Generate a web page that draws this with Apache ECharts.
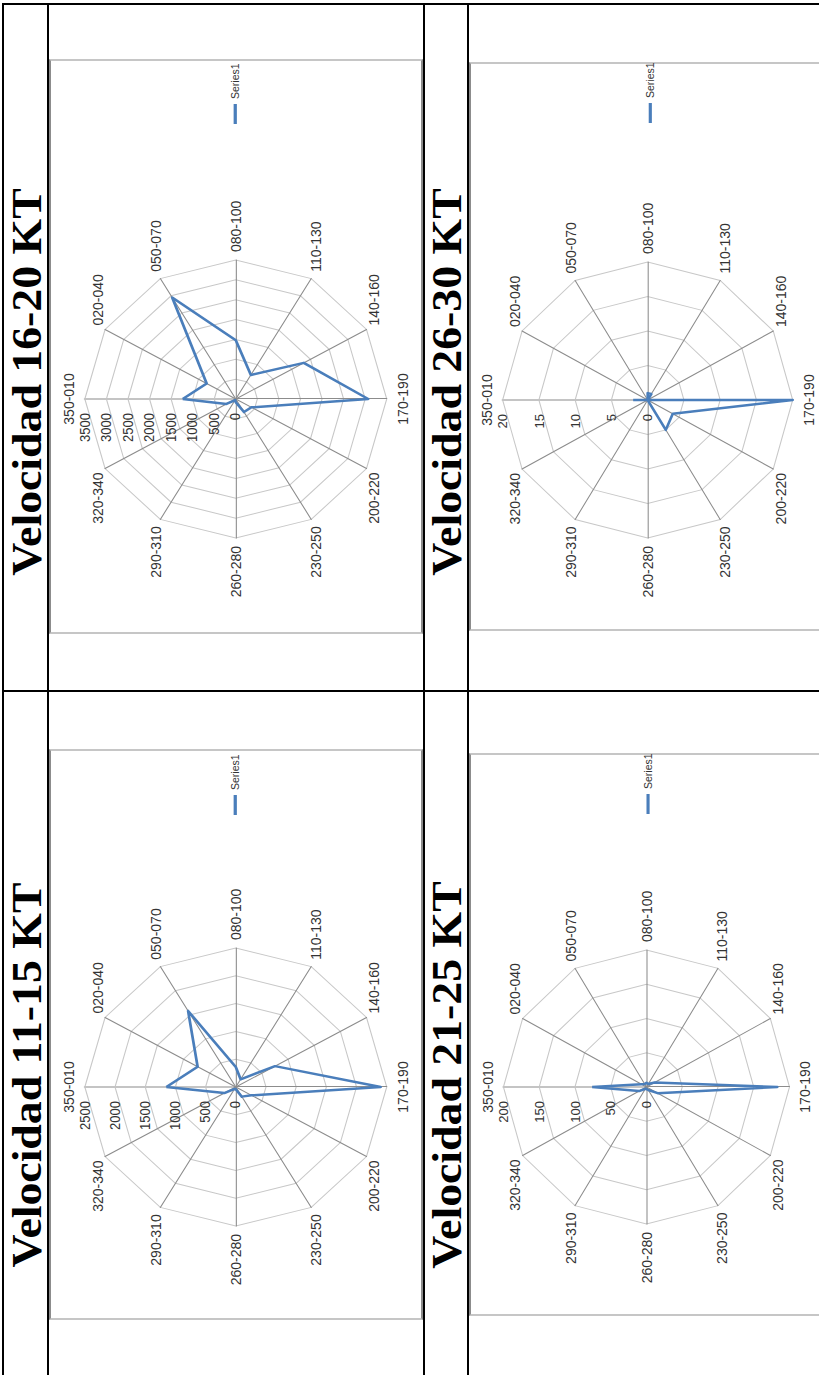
<!DOCTYPE html>
<html lang="es">
<head>
<meta charset="UTF-8">
<title>Velocidad del viento por dirección</title>
<script src="https://cdn.jsdelivr.net/npm/echarts@6/dist/echarts.min.js"></script>
<style>
  html, body { margin: 0; padding: 0; background: #fff; }
  body { width: 819px; height: 1375px; position: relative; overflow: hidden; }
  .rule { position: absolute; background: #000; }
  .box { position: absolute; box-sizing: border-box; border: 2px solid #c6c6c6;
         border-left-color: #8c8c8c; border-right-color: #8c8c8c; }
  .title { position: absolute; font: bold 42px 'Liberation Serif', 'Times New Roman', serif;
           line-height: 1; white-space: nowrap; color: #000;
           transform: translate(-50%, -50%) rotate(-90deg) scale(1.09, 1); }
  .chart { position: absolute; left: 0; top: 0; transform-origin: 0 0; }
</style>
</head>
<body>
<!-- table rules -->
<div class="rule" style="left:2px;top:3px;width:817px;height:2px"></div>
<div class="rule" style="left:2px;top:690px;width:817px;height:2px"></div>
<div class="rule" style="left:2px;top:3px;width:2px;height:1372px"></div>
<div class="rule" style="left:47px;top:3px;width:2px;height:1372px"></div>
<div class="rule" style="left:423px;top:3px;width:2px;height:1372px"></div>
<div class="rule" style="left:467px;top:3px;width:2px;height:1372px"></div>

<!-- chart frames -->
<div class="box" style="left:49px;top:59px;width:374px;height:575px"></div>
<div class="box" style="left:469px;top:62px;width:380px;height:569px"></div>
<div class="box" style="left:49px;top:749px;width:374px;height:571px"></div>
<div class="box" style="left:469px;top:753px;width:380px;height:563px"></div>

<div class="title" id="t1" style="left:27px;top:382px"></div>
<div class="title" id="t2" style="left:447px;top:382px"></div>
<div class="title" id="t3" style="left:27px;top:1075px"></div>
<div class="title" id="t4" style="left:447px;top:1075px"></div>

<div class="chart" id="c1"></div>
<div class="chart" id="c2"></div>
<div class="chart" id="c3"></div>
<div class="chart" id="c4"></div>

<script>
    const directions = ['350-010', '020-040', '050-070', '080-100', '110-130', '140-160',
                        '170-190', '200-220', '230-250', '260-280', '290-310', '320-340']

    const freq11to15 = [1150, 730, 1580, 360, 160, 750, 2400, 300, 200, 40, 40, 220]
    const freq16to20 = [1230, 780, 2950, 1480, 700, 1820, 3070, 420, 380, 80, 30, 250]
    const freq21to25 = [76, 8, 5, 6, 5, 13, 183, 18, 5, 3, 3, 12]
    const freq26to30 = [2, 0, 0, 1, 1, 0, 20, 4, 5, 0, 0, 0]

    const ticks11to15 = [0, 500, 1000, 1500, 2000, 2500]
    const ticks16to20 = [0, 500, 1000, 1500, 2000, 2500, 3000, 3500]
    const ticks21to25 = [0, 50, 100, 150, 200]
    const ticks26to30 = [0, 5, 10, 15, 20]

    const titles = ['Velocidad 16-20 KT', 'Velocidad 26-30 KT', 'Velocidad 11-15 KT', 'Velocidad 21-25 KT']
    const seriesName = 'Series1'

    // the scanned page is turned a quarter to the left and a bit stretched across,
    // so each chart is drawn upright and then turned with css
    const panels = [
        {id: 'c1', data: freq16to20, ticks: ticks16to20, x0: 49, yB: 634, w: 575, k: 1.086, c: [235, 172], r: 139, leg: [510, 166]},
        {id: 'c2', data: freq26to30, ticks: ticks26to30, x0: 469, yB: 631, w: 569, k: 1.051, c: [231, 170], r: 138, leg: [508, 167]},
        {id: 'c3', data: freq11to15, ticks: ticks11to15, x0: 49, yB: 1320, w: 571, k: 1.086, c: [233, 172], r: 139, leg: [505, 166]},
        {id: 'c4', data: freq21to25, ticks: ticks21to25, x0: 469, yB: 1316, w: 563, k: 1.044, c: [229, 170], r: 137, leg: [502, 166]}
    ]

    // echarts lays indicators out counter-clockwise, Excel clockwise
    function ccw(list) {
        return [list[0]].concat(list.slice(1).reverse())
    }

    function build(p) {
        let el = document.getElementById(p.id)
        el.style.width = (p.w + 60) + 'px'
        el.style.height = '344px'
        el.style.transform = 'translate(' + p.x0 + 'px,' + p.yB + 'px) rotate(-90deg) scale(1,' + p.k + ')'
        let chart = echarts.init(el, null, {renderer: 'svg'})
        let top = p.ticks[p.ticks.length - 1]
        let indicator = ccw(directions).map(function (n, i) {
            let ind = {name: n, min: 0, max: top}
            if (i === 0) {
                ind.axisLabel = {show: true}
                ind.axisLine = {lineStyle: {color: '#c4c4c4', width: 2}}
            }
            return ind
        })
        chart.setOption({
            animation: false,
            legend: {
                data: [{name: seriesName, icon: 'rect'}],
                left: p.leg[0], top: p.leg[1], padding: 0,
                itemWidth: 20, itemHeight: 3,
                textStyle: {fontSize: 10.5, color: '#333', fontFamily: 'Liberation Sans'}
            },
            radar: {
                center: p.c,
                radius: p.r,
                startAngle: 90,
                shape: 'polygon',
                splitNumber: p.ticks.length - 1,
                indicator: indicator,
                nameGap: 8,
                axisName: {color: '#333', fontSize: 14, fontFamily: 'Liberation Sans'},
                axisLine: {lineStyle: {color: '#8c8c8c', width: 1}},
                splitLine: {lineStyle: {color: '#c8c8c8', width: 1}},
                splitArea: {show: false},
                axisTick: {show: false},
                axisLabel: {
                    show: false, color: '#333', fontSize: 13, margin: 14, fontFamily: 'Liberation Sans',
                    formatter: function (v) { return String(v) }
                }
            },
            series: [{
                type: 'radar',
                name: seriesName,
                symbol: 'none',
                lineStyle: {color: '#4a7ebb', width: 2.5},
                itemStyle: {color: '#4a7ebb'},
                data: [{name: seriesName, value: ccw(p.data)}]
            }]
        })
    }

    ['t1', 't2', 't3', 't4'].forEach(function (id, i) {
        document.getElementById(id).textContent = titles[i]
    })
    panels.forEach(build)
</script>
</body>
</html>
